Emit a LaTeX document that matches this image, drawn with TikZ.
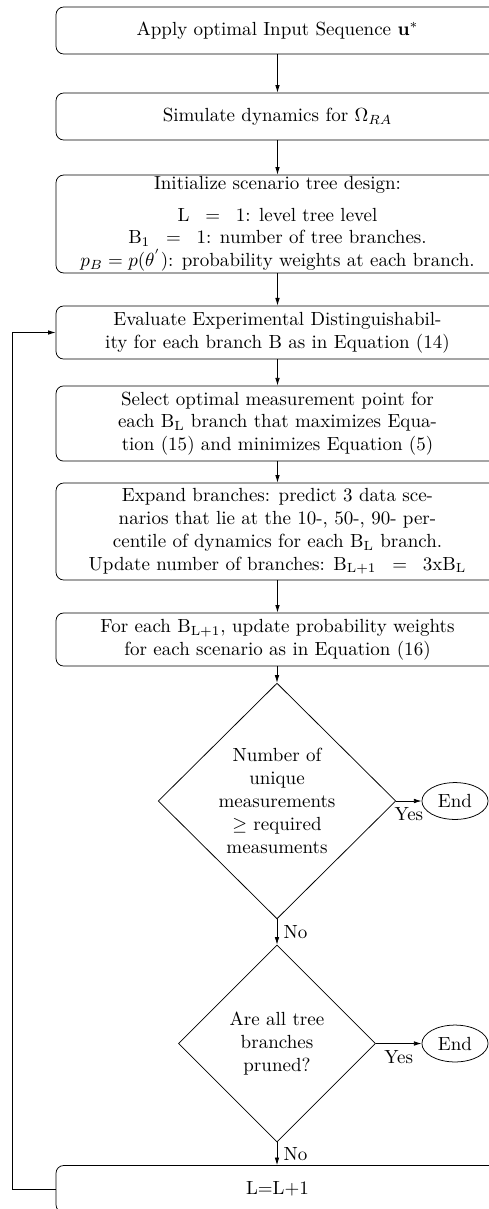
\documentclass[tikz,border=0pt]{standalone}
\usetikzlibrary{shapes.geometric,arrows.meta}
\begin{document}
\begin{tikzpicture}[x=0.526pt,y=-0.526pt,
  box/.style={draw, rounded corners=4pt, minimum width=233pt, align=center, inner ysep=3pt, inner xsep=2pt, line width=0.4pt},
  dec/.style={draw, diamond, aspect=1, inner sep=0pt, align=center, line width=0.4pt},
  term/.style={draw, ellipse, line width=0.4pt},
  arr/.style={-{Latex[length=4pt,width=2.4pt]}, line width=0.4pt}
]
\useasboundingbox (0,0) rectangle (488,1209);
\node[box, minimum height=24.7pt] (b1) at (277.5,30.5) {Apply optimal Input Sequence $\mathbf{u}^{*}$};
\node[box, minimum height=24.7pt] (b2) at (277.5,116.5) {Simulate dynamics for $\Omega_{RA}$};
\node[box, minimum height=51.5pt, inner ysep=0.7pt] (b3) at (277.5,224) {Initialize scenario tree design:\\[4.5pt]
$\mathrm{L}\;\;=\;\;1$: level tree level\\
$\mathrm{B}_1\;\;=\;\;1$: number of tree branches.\\
$p_B = p(\theta^{'})$: probability weights at each branch.};
\node[box, minimum height=27.9pt] (b4) at (277.5,332.5) {Evaluate Experimental Distinguishabil-\\ity for each branch B as in Equation (14)};
\node[box, minimum height=39.5pt] (b5) at (277.5,423.5) {Select optimal measurement point for\\each $\mathrm{B_L}$ branch that maximizes Equa-\\tion (15) and minimizes Equation (5)};
\node[box, minimum height=51pt, inner ysep=2.5pt] (b6) at (277.5,531.5) {Expand branches: predict 3 data sce-\\narios that lie at the 10-, 50-, 90- per-\\centile of dynamics for each $\mathrm{B_L}$ branch.\\Update number of branches: $\mathrm{B_{L+1}}\;\;=\;\;\mathrm{3xB_L}$};
\node[box, minimum height=27.9pt] (b7) at (277.5,639.5) {For each $\mathrm{B_{L+1}}$, update probability weights\\for each scenario as in Equation (16)};
\node[dec, minimum width=125pt, minimum height=124pt] (d1) at (277,801) {Number of\\unique\\measurements\\$\geq$ required\\measuments};
\node[term] (e1) at (455,801) {End};
\node[dec, minimum width=103.6pt, minimum height=103.6pt] (d2) at (277,1043.5) {Are all tree\\branches\\pruned?};
\node[term] (e2) at (455,1043.5) {End};
\node[box, minimum height=24.7pt] (b8) at (277.5,1189) {L=L+1};
\coordinate (lp) at (12.7,1189);

\draw[arr] (b1) -- (b2);
\draw[arr] (b2) -- (b3);
\draw[arr] (b3) -- (b4);
\draw[arr] (b4) -- (b5);
\draw[arr] (b5) -- (b6);
\draw[arr] (b6) -- (b7);
\draw[arr] (b7.south -| d1.north) -- (d1.north);
\draw[arr] (d1.east) -- node[midway, below] {Yes} (e1.west);
\draw[arr] (d1.south) -- node[midway, right] {No} (d2.north);
\draw[arr] (d2.east) -- node[midway, below] {Yes} (e2.west);
\draw[arr] (d2.south) -- node[midway, right] {No} (b8.north -| d2.south);
\draw[arr] (b8.west) -- (lp) |- (b4.west);
\end{tikzpicture}
\end{document}
